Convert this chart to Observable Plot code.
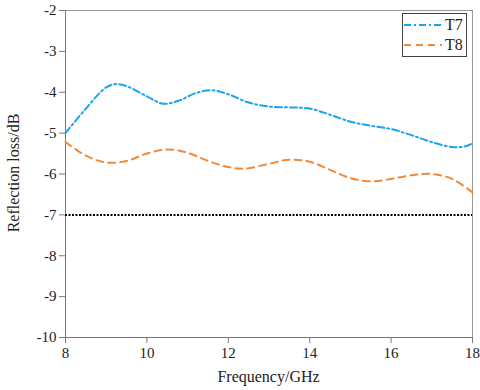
<!DOCTYPE html>
<html><head><meta charset="utf-8">
<script src="https://cdn.jsdelivr.net/npm/d3@7"></script>
<script src="https://cdn.jsdelivr.net/npm/@observablehq/plot@0.6"></script>
<style>
body{margin:0;background:#fff;}
#wrap{position:relative;width:480px;height:390px;font-family:"Liberation Serif","Times New Roman",serif;}
#wrap svg text{font-family:"Liberation Serif","Times New Roman",serif !important;}
#legend{position:absolute;left:402px;top:13px;width:63px;height:42px;border:1px solid #444;background:#fff;font-size:16px;color:#222;}
#legend .row{position:absolute;left:1px;height:20px;display:flex;align-items:center;}
</style></head>
<body><div id="wrap"></div>
<script>
const t7Freq = [8,8.5,9.0,9.25,9.5,10.0,10.4,10.8,11.2,11.6,12.0,12.5,13.0,13.5,14.0,14.5,15.0,15.5,16.0,16.5,17.0,17.5,17.8,18.0];
const t7Loss = [-5.0,-4.4,-3.88,-3.8,-3.85,-4.1,-4.28,-4.2,-4.02,-3.95,-4.05,-4.25,-4.35,-4.37,-4.4,-4.55,-4.72,-4.82,-4.9,-5.05,-5.22,-5.34,-5.33,-5.25];
const t8Freq = [8,8.5,9.0,9.5,10.0,10.5,11.0,11.5,12.0,12.4,13.0,13.5,14.0,14.5,15.0,15.5,16.0,16.5,17.0,17.5,18.0];
const t8Loss = [-5.22,-5.55,-5.72,-5.68,-5.5,-5.4,-5.48,-5.68,-5.83,-5.87,-5.75,-5.65,-5.7,-5.9,-6.1,-6.18,-6.12,-6.03,-6.0,-6.12,-6.45];
const refLevel = -7;
const xTicks = [8,10,12,14,16,18];
const yTicks = [-10,-9,-8,-7,-6,-5,-4,-3,-2];
const seriesNames = ["T7","T8"];
const colors = ["#1aa3f0","#f28a3a"];

const t7 = t7Freq.map((f,i)=>({f, v:t7Loss[i]}));
const t8 = t8Freq.map((f,i)=>({f, v:t8Loss[i]}));
const fmt = d => String(d);
const serif = '"Liberation Serif","Times New Roman",serif';

const chart = Plot.plot({
  width:480, height:390,
  marginLeft:65, marginRight:8, marginTop:10, marginBottom:53,
  style:{fontFamily:serif, fontSize:"14px", color:"#222", background:"#fff"},
  x:{domain:[8,18], label:null},
  y:{domain:[-10,-2], label:null},
  marks:[
    Plot.frame({stroke:"#999"}),
    Plot.axisX({ticks:xTicks, tickSize:6, tickPadding:4, stroke:"#777", label:null, fontSize:15, fontFamily:serif, tickFormat:fmt}),
    Plot.axisY({ticks:yTicks, tickSize:6, tickPadding:3, stroke:"#777", label:null, fontSize:15, fontFamily:serif, tickFormat:fmt}),
    Plot.ruleX([8],{stroke:"#777"}),
    Plot.ruleY([-10],{stroke:"#777"}),
    Plot.ruleY([refLevel],{stroke:"#000", strokeWidth:2, strokeDasharray:"2,1.5"}),
    Plot.line(t7,{x:"f", y:"v", stroke:colors[0], strokeWidth:2, strokeDasharray:"7,3,2,3", curve:"catmull-rom"}),
    Plot.line(t8,{x:"f", y:"v", stroke:colors[1], strokeWidth:2, strokeDasharray:"7,5", curve:"catmull-rom"})
  ]
});
const wrap = document.getElementById("wrap");
wrap.appendChild(chart);

const xl = document.createElement("div");
xl.textContent = "Frequency/GHz";
xl.style.cssText = "position:absolute;left:65px;width:407px;top:368px;text-align:center;font-size:16px;color:#222;";
wrap.appendChild(xl);
const yl = document.createElement("div");
yl.textContent = "Reflection loss/dB";
yl.style.cssText = "position:absolute;left:-150px;width:330px;top:163px;text-align:center;font-size:16px;color:#222;transform:rotate(-90deg);transform-origin:165px 10px;";
wrap.appendChild(yl);

const lg = document.createElement("div");
lg.id = "legend";
const dashes = ["7,3,2,3","7,5"];
seriesNames.forEach((n,i)=>{
  const r = document.createElement("div");
  r.className = "row";
  r.style.top = (1 + i*20) + "px";
  r.innerHTML = `<svg width="38" height="10"><line x1="0" y1="5" x2="38" y2="5" stroke="${colors[i]}" stroke-width="2" stroke-dasharray="${dashes[i]}"/></svg><span style="margin-left:3px">${n}</span>`;
  lg.appendChild(r);
});
wrap.appendChild(lg);
</script></body></html>
